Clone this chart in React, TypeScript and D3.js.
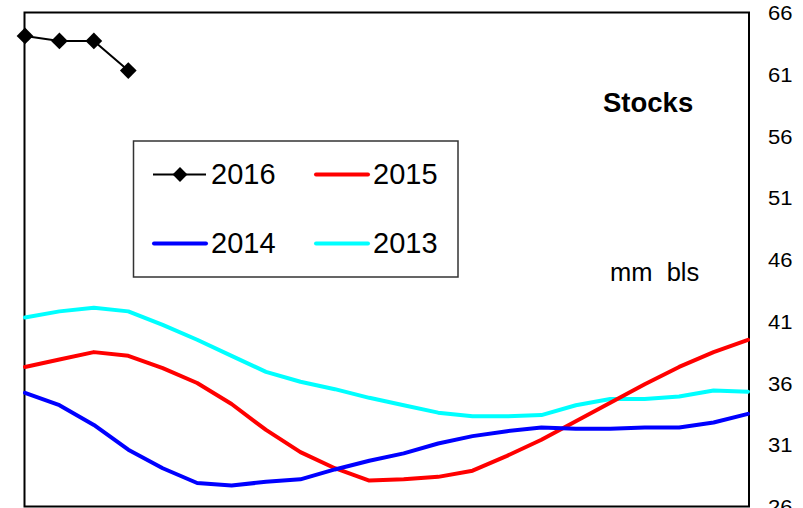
import * as React from 'react';
import * as d3 from 'd3';

// weekly stock levels, mm bls
const weeks = d3.range(22);
const s2016 = [64.1, 63.7, 63.7, 61.3];
const s2015 = [37.3, 37.9, 38.5, 38.2, 37.2, 36.0, 34.3, 32.2, 30.4, 29.1, 28.1, 28.2, 28.4, 28.9, 30.1, 31.4, 32.9, 34.4, 35.9, 37.3, 38.5, 39.5];
const s2014 = [35.2, 34.2, 32.6, 30.6, 29.1, 27.9, 27.7, 28.0, 28.2, 29.0, 29.7, 30.3, 31.1, 31.7, 32.1, 32.4, 32.3, 32.3, 32.4, 32.4, 32.8, 33.5];
const s2013 = [41.3, 41.8, 42.1, 41.8, 40.7, 39.5, 38.2, 36.9, 36.1, 35.5, 34.8, 34.2, 33.6, 33.3, 33.3, 33.4, 34.2, 34.7, 34.7, 34.9, 35.4, 35.3];
const yTicks = [26, 31, 36, 41, 46, 51, 56, 61, 66];

const W = 803;
const H = 508;
const left = 24.5;
const right = 749;
const top = 12.5;
const bottom = 506.5;
const font = 'Arial, "Liberation Sans", sans-serif';

const x = d3.scaleLinear().domain([0, 21]).range([25, 748]);
const y = d3.scaleLinear().domain([26, 66]).range([bottom, top]);

const line = d3
  .line<number>()
  .x((_, i) => x(weeks[i]))
  .y((d) => y(d));

const diamond = (size: number) => d3.symbol(d3.symbolSquare, size)();

interface Series {
  name: string;
  values: number[];
  color: string;
}

const colored: Series[] = [
  { name: '2013', values: s2013, color: '#00FFFF' },
  { name: '2015', values: s2015, color: '#FF0000' },
  { name: '2014', values: s2014, color: '#0000FF' },
];

const App = () => {
  return (
    <div style={{ position: 'fixed', left: 0, top: 0 }}>
      <svg width={W} height={H} style={{ display: 'block', background: '#fff' }}>
        <rect
          x={left}
          y={top}
          width={right - left}
          height={bottom - top}
          fill="#fff"
          stroke="#000"
          strokeWidth={2}
        />
        {colored.map((s) => (
          <path
            key={s.name}
            d={line(s.values) || ''}
            fill="none"
            stroke={s.color}
            strokeWidth={4}
            strokeLinejoin="round"
            strokeLinecap="round"
          />
        ))}
        {/* 2016 */}
        <path d={line(s2016) || ''} fill="none" stroke="#000" strokeWidth={2} />
        {s2016.map((v, i) => (
          <path
            key={i}
            d={diamond(140) || ''}
            transform={`translate(${x(weeks[i])},${y(v)}) rotate(45)`}
            fill="#000"
          />
        ))}
        {/* right axis labels (a bit wide in the original) */}
        {yTicks.map((t) => (
          <text
            key={t}
            x={768}
            y={y(t) + 7.7}
            fontFamily={font}
            fontSize={19.5}
            textLength={24.5}
            lengthAdjust="spacingAndGlyphs"
            fill="#000"
          >
            {t}
          </text>
        ))}
        <text x={603} y={112} fontFamily={font} fontSize={27.5} fontWeight="bold" fill="#000">
          Stocks
        </text>
        <text x={610} y={281} fontFamily={font} fontSize={25.5} fill="#000" style={{ whiteSpace: 'pre' }}>
          {'mm  bls'}
        </text>
        {/* legend */}
        <g>
          <rect x={133.5} y={141} width={324.5} height={136} fill="#fff" stroke="#333" strokeWidth={1.5} />
          <line x1={153} x2={206} y1={174.5} y2={174.5} stroke="#000" strokeWidth={2} />
          <path d={diamond(110) || ''} transform="translate(180,174.5) rotate(45)" fill="#000" />
          <text x={211} y={184} fontFamily={font} fontSize={29} fill="#000">2016</text>
          <line x1={316} x2={368} y1={174.5} y2={174.5} stroke="#FF0000" strokeWidth={4} strokeLinecap="round" />
          <text x={373} y={184} fontFamily={font} fontSize={29} fill="#000">2015</text>
          <line x1={154} x2={206} y1={243.5} y2={243.5} stroke="#0000FF" strokeWidth={4} strokeLinecap="round" />
          <text x={211} y={253} fontFamily={font} fontSize={29} fill="#000">2014</text>
          <line x1={316} x2={368} y1={243.5} y2={243.5} stroke="#00FFFF" strokeWidth={4} strokeLinecap="round" />
          <text x={373} y={253} fontFamily={font} fontSize={29} fill="#000">2013</text>
        </g>
      </svg>
    </div>
  );
};

export default App;
